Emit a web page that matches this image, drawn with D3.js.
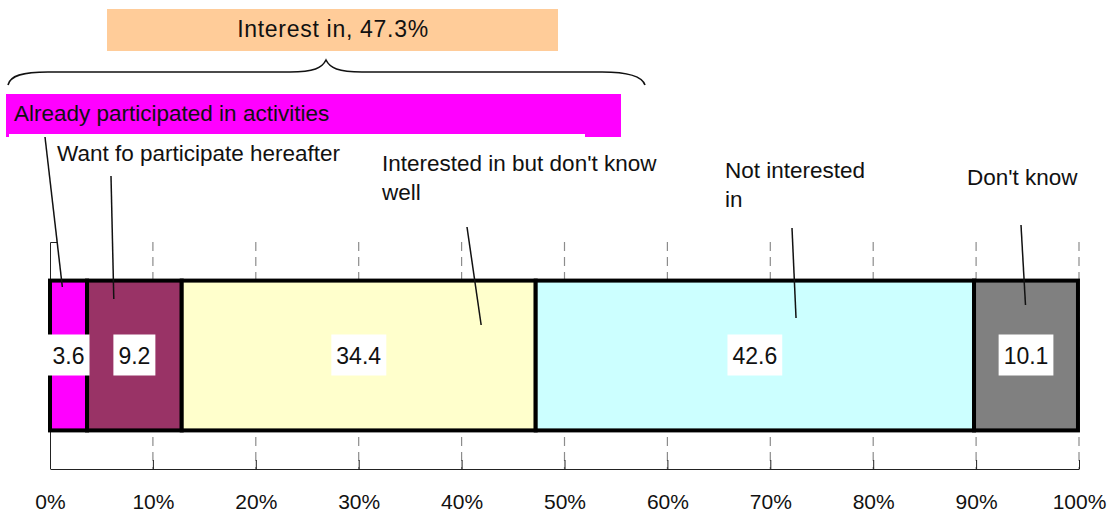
<!DOCTYPE html>
<html>
<head>
<meta charset="utf-8">
<script src="https://cdn.jsdelivr.net/npm/d3@7"></script>
<style>
  html, body { margin: 0; padding: 0; background: #fff; }
  svg { display: block; font-family: "Liberation Sans", Arial, sans-serif; }
</style>
</head>
<body>
<svg class="js-chart" width="1108" height="516"></svg>
<script>
// data
var categories = [
  'Already participated in activities',
  'Want fo participate hereafter',
  "Interested in but don't know well",
  'Not interested in',
  "Don't know"
];
var values = [3.6, 9.2, 34.4, 42.6, 10.1];
var colors = ['#ff00ff', '#993366', '#ffffcc', '#ccffff', '#808080'];
var ticks = [0, 10, 20, 30, 40, 50, 60, 70, 80, 90, 100];
var interestLabel = 'Interest in, 47.3%';

// callout layout: label lines + leader (x in %, y in px)
var callouts = [
  { lines: ['Already participated in activities'], tx: 14, ty: 121, from: [45, 137], to: [1.2, 287] },
  { lines: ['Want fo participate hereafter'], tx: 57, ty: 161, from: [111, 176], to: [6.2, 299] },
  { lines: ["Interested in but don't know", 'well'], tx: 382, ty: 171, from: [467, 227], to: [41.9, 325] },
  { lines: ['Not interested', 'in'], tx: 725, ty: 178, from: [792, 228], to: [72.5, 318] },
  { lines: ["Don't know"], tx: 967, ty: 185, from: [1021, 225], to: [94.8, 305] }
];

var svg = d3.select('.js-chart');

var x = d3.scaleLinear().domain([0, 100]).range([50, 1079]);
var y = d3.scaleBand().domain(['all']).range([242, 469])
    .paddingInner(0.34).paddingOuter(0.17);

// stacked segments
var start = 0;
var segments = values.map(function (v, i) {
  var s = { name: categories[i], value: v, x0: start, x1: start + v, color: colors[i] };
  start += v;
  return s;
});

// grid lines
svg.append('g').selectAll('line')
  .data(ticks.slice(1))
  .enter().append('line')
  .attr('x1', function (d) { return x(d); })
  .attr('x2', function (d) { return x(d); })
  .attr('y1', 242)
  .attr('y2', 469)
  .attr('stroke', '#8c8c8c')
  .attr('stroke-width', 1.2)
  .attr('stroke-dasharray', '9,6');

// left axis
svg.append('path')
  .attr('d', 'M57,242.5H50.5V469')
  .attr('fill', 'none')
  .attr('stroke', '#222')
  .attr('stroke-width', 1);

// bottom axis
var axis = svg.append('g')
  .attr('transform', 'translate(0,469)')
  .call(d3.axisBottom(x)
    .tickValues(ticks)
    .tickFormat(function (d) { return d + '%'; })
    .tickSizeInner(-9)
    .tickSizeOuter(0)
    .tickPadding(25));
axis.select('.domain').attr('stroke', '#222');
axis.selectAll('.tick line').attr('stroke', '#222');
axis.selectAll('.tick text')
  .attr('font-size', 21)
  .attr('font-family', '"Liberation Sans", Arial, sans-serif')
  .attr('fill', '#111');
axis.selectAll('.tick').filter(function (d) { return d === 0; }).select('line').remove();

// bars
svg.append('g').selectAll('rect')
  .data(segments)
  .enter().append('rect')
  .attr('x', function (d) { return x(d.x0); })
  .attr('y', y('all'))
  .attr('width', function (d) { return x(d.x1) - x(d.x0); })
  .attr('height', y.bandwidth())
  .attr('fill', function (d) { return d.color; })
  .attr('stroke', '#000')
  .attr('stroke-width', 4);

// value labels with white boxes
var yMid = y('all') + y.bandwidth() / 2;
var vl = svg.append('g').selectAll('g')
  .data(segments)
  .enter().append('g')
  .attr('transform', function (d) {
    return 'translate(' + x((d.x0 + d.x1) / 2) + ',' + yMid + ')';
  });
vl.append('text')
  .attr('text-anchor', 'middle')
  .attr('dy', '0.36em')
  .attr('font-size', 23)
  .attr('fill', '#111')
  .text(function (d) { return d.value.toFixed(1); });
vl.each(function () {
  var g = d3.select(this),
      bb = g.select('text').node().getBBox();
  g.insert('rect', 'text')
    .attr('x', bb.x - 5)
    .attr('y', -21)
    .attr('width', bb.width + 10)
    .attr('height', 41)
    .attr('fill', '#fff');
});

// top annotation: orange box + brace
svg.append('rect')
  .attr('x', 107).attr('y', 9).attr('width', 451).attr('height', 42)
  .attr('fill', '#ffcc99');
svg.append('text')
  .attr('x', 333).attr('y', 37)
  .attr('text-anchor', 'middle')
  .attr('font-size', 23)
  .attr('letter-spacing', 0.7)
  .attr('fill', '#111')
  .text(interestLabel);

svg.append('path')
  .attr('d', 'M8,85 C10,76 22,72 48,72 L290,72 C314,72 322,68 326,60 ' +
             'C330,68 338,72 362,72 L602,72 C628,72 642,76 645,85')
  .attr('fill', 'none')
  .attr('stroke', '#111')
  .attr('stroke-width', 1.6);

// magenta label box
svg.append('rect')
  .attr('x', 6).attr('y', 94).attr('width', 615).attr('height', 43)
  .attr('fill', '#ff00ff');
svg.append('rect')
  .attr('x', 9).attr('y', 134).attr('width', 576).attr('height', 6)
  .attr('fill', '#fff');

// callouts
var co = svg.append('g').selectAll('g')
  .data(callouts)
  .enter().append('g');
co.append('line')
  .attr('x1', function (d) { return d.from[0]; })
  .attr('y1', function (d) { return d.from[1]; })
  .attr('x2', function (d) { return x(d.to[0]); })
  .attr('y2', function (d) { return d.to[1]; })
  .attr('stroke', '#111')
  .attr('stroke-width', 1.5);
co.append('text')
  .attr('font-size', 22.5)
  .attr('fill', '#111')
  .selectAll('tspan')
  .data(function (d) {
    return d.lines.map(function (l, i) { return { t: l, x: d.tx, y: d.ty + i * 29 }; });
  })
  .enter().append('tspan')
  .attr('x', function (d) { return d.x; })
  .attr('y', function (d) { return d.y; })
  .text(function (d) { return d.t; });
</script>
</body>
</html>
